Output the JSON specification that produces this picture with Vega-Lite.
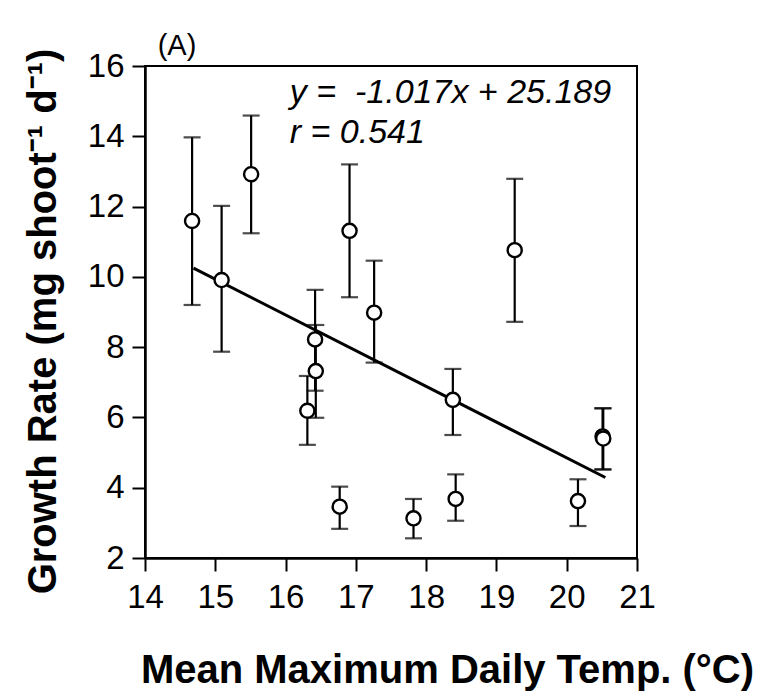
{
  "$schema": "https://vega.github.io/schema/vega-lite/v6.json",
  "width": 492,
  "height": 492,
  "autosize": {"type": "none"},
  "padding": {"left": 145, "top": 66, "right": 124, "bottom": 138},
  "background": "white",
  "config": {
    "view": {"stroke": "black", "strokeWidth": 2},
    "font": "Liberation Sans",
    "axis": {
      "grid": false,
      "labelFlush": false,
      "labelOverlap": false,
      "domainColor": "black",
      "domainWidth": 2.5,
      "tickColor": "black",
      "tickWidth": 2,
      "tickSize": 13,
      "labelColor": "black",
      "labelFont": "Liberation Sans",
      "labelFontSize": 33,
      "titleColor": "black",
      "titleFont": "Liberation Sans",
      "titleFontSize": 40,
      "titleFontWeight": "bold"
    }
  },
  "datasets": {
    "points": [
      {"temp": 14.67, "rate": 11.59, "lo": 9.20, "hi": 13.97},
      {"temp": 15.09, "rate": 9.91, "lo": 7.87, "hi": 12.02},
      {"temp": 15.51, "rate": 12.92, "lo": 11.24, "hi": 14.59},
      {"temp": 16.31, "rate": 6.19, "lo": 5.22, "hi": 7.18},
      {"temp": 16.42, "rate": 8.22, "lo": 6.76, "hi": 9.63},
      {"temp": 16.43, "rate": 7.32, "lo": 5.99, "hi": 8.63},
      {"temp": 16.77, "rate": 3.46, "lo": 2.83, "hi": 4.03},
      {"temp": 16.91, "rate": 11.31, "lo": 9.42, "hi": 13.20},
      {"temp": 17.26, "rate": 8.98, "lo": 7.56, "hi": 10.46},
      {"temp": 17.82, "rate": 3.13, "lo": 2.56, "hi": 3.68},
      {"temp": 18.38, "rate": 6.50, "lo": 5.50, "hi": 7.38},
      {"temp": 18.42, "rate": 3.68, "lo": 3.06, "hi": 4.38},
      {"temp": 19.26, "rate": 10.76, "lo": 8.72, "hi": 12.79},
      {"temp": 20.16, "rate": 3.62, "lo": 2.91, "hi": 4.24},
      {"temp": 20.51, "rate": 5.46, "lo": 4.52, "hi": 6.26},
      {"temp": 20.52, "rate": 5.40, "lo": 4.52, "hi": 6.26}
    ],
    "fit": [
      {"temp": 14.69, "rate": 10.25},
      {"temp": 20.55, "rate": 4.29}
    ],
    "notes": [
      {"temp": 14.18, "rate": 16.31, "label": "(A)", "kind": "panel"},
      {"temp": 16.06, "rate": 14.95, "label": "y = \u00a0-1.017x + 25.189", "kind": "eq"},
      {"temp": 16.06, "rate": 13.81, "label": "r = 0.541", "kind": "eq"}
    ]
  },
  "encoding": {
    "x": {
      "field": "temp",
      "type": "quantitative",
      "scale": {"domain": [14, 21], "nice": false, "zero": false},
      "axis": {
        "values": [14, 15, 16, 17, 18, 19, 20, 21],
        "labelPadding": 10,
        "title": "Mean Maximum Daily Temp. (°C)",
        "titleX": 302,
        "titleY": 124,
        "titleBaseline": "alphabetic",
        "titleAlign": "center"
      }
    },
    "y": {
      "field": "rate",
      "type": "quantitative",
      "scale": {"domain": [2, 16], "nice": false, "zero": false},
      "axis": {
        "values": [2, 4, 6, 8, 10, 12, 14, 16],
        "labelPadding": 8,
        "title": "Growth Rate (mg shoot⁻¹ d⁻¹)",
        "titleX": -90,
        "titleY": 255,
        "titleAngle": 270,
        "titleBaseline": "alphabetic",
        "titleAlign": "center"
      }
    }
  },
  "layer": [
    {
      "data": {"name": "points"},
      "mark": {
        "type": "errorbar",
        "ticks": {"size": 17, "thickness": 2.2, "color": "black"},
        "rule": {"strokeWidth": 2.2, "color": "black"}
      },
      "encoding": {
        "y": {"field": "lo", "type": "quantitative"},
        "y2": {"field": "hi"}
      }
    },
    {
      "data": {"name": "fit"},
      "mark": {"type": "line", "color": "black", "strokeWidth": 3},
      "encoding": {}
    },
    {
      "data": {"name": "points"},
      "mark": {"type": "point", "shape": "circle", "filled": false, "fill": "white", "fillOpacity": 1, "stroke": "black", "strokeWidth": 2.4, "size": 200, "opacity": 1}
    },
    {
      "data": {"name": "notes"},
      "transform": [{"filter": "datum.kind === 'eq'"}],
      "mark": {"type": "text", "align": "left", "baseline": "alphabetic", "fontSize": 34, "fontStyle": "italic", "color": "black", "font": "Liberation Sans"},
      "encoding": {"text": {"field": "label"}}
    },
    {
      "data": {"name": "notes"},
      "transform": [{"filter": "datum.kind === 'panel'"}],
      "mark": {"type": "text", "align": "left", "baseline": "alphabetic", "fontSize": 29, "color": "black", "font": "Liberation Sans"},
      "encoding": {"text": {"field": "label"}}
    }
  ]
}
